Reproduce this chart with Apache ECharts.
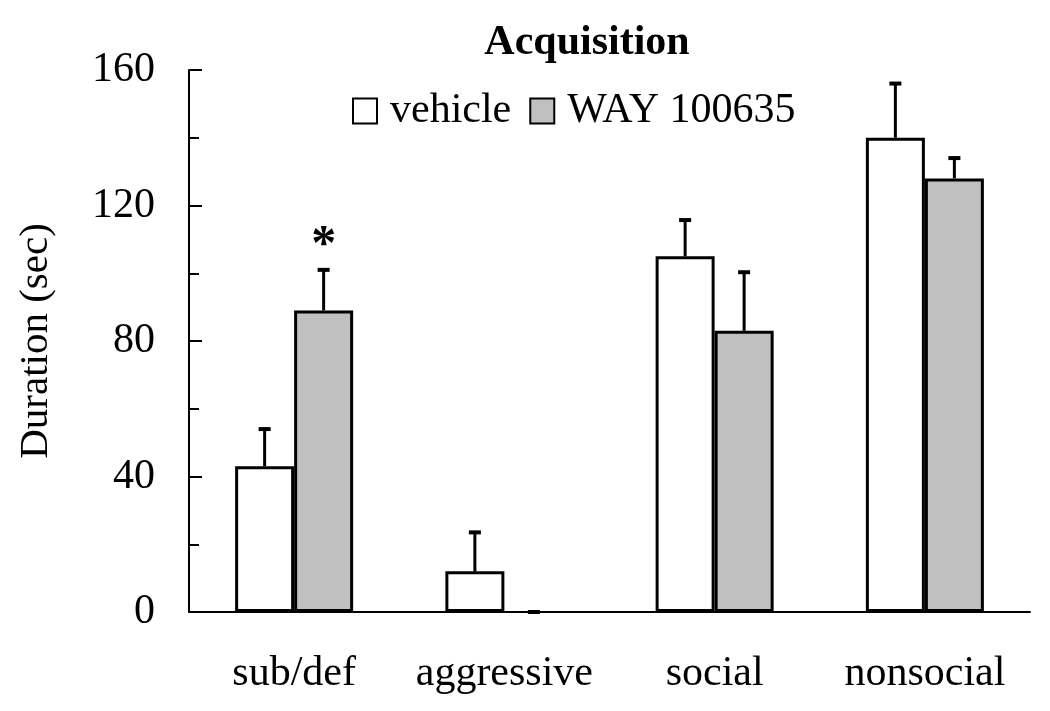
<!DOCTYPE html>
<html>
<head>
<meta charset="utf-8">
<script src="https://cdn.jsdelivr.net/npm/echarts@6/dist/echarts.min.js"></script>
<style>html,body{margin:0;padding:0;background:#fff}#c{width:1050px;height:711px}</style>
</head>
<body>
<div id="c"></div>
<script>
var categories = ['sub/def', 'aggressive', 'social', 'nonsocial'];
var seriesNames = ['vehicle', 'WAY 100635'];
var vehicleMean = [43, 12, 105, 140];
var vehicleSem = [11, 11.5, 10.7, 16];
var wayMean = [89, 0, 83, 128];
var waySem = [12, 0, 17.3, 6];
var waySig = ['*', '', '', ''];
var yTicks = [0, 40, 80, 120, 160];

var FONT = '"Liberation Serif", "Times New Roman", serif';
var BAR_W = 59;

function errData(mean, sem, sig) {
  return mean.map(function (m, i) { return [i, m, m + sem[i], sig ? sig[i] : '']; });
}
function barData(mean) {
  return mean.map(function (m) {
    return m === 0 ? { value: m, itemStyle: { borderWidth: 0 } } : m;
  });
}

function errRender(offsetSign) {
  return function (params, api) {
    var c = api.value(0);
    var base = api.coord([c, api.value(1)]);
    var top = api.coord([c, api.value(2)]);
    var x = base[0] + offsetSign * BAR_W / 2;
    var children = [
      { type: 'line', shape: { x1: x, y1: base[1], x2: x, y2: top[1] }, style: { stroke: '#000', lineWidth: 3 } },
      { type: 'line', shape: { x1: x - 6, y1: top[1], x2: x + 6, y2: top[1] }, style: { stroke: '#000', lineWidth: 4 } }
    ];
    var s = api.value(3);
    if (s) {
      children.push({ type: 'text', style: { text: s, x: x, y: top[1] - 24, align: 'center', verticalAlign: 'middle', font: 'bold 50px ' + FONT, fill: '#000' } });
    }
    return { type: 'group', children: children };
  };
}

var chart = echarts.init(document.getElementById('c'), null, { renderer: 'canvas' });
chart.setOption({
  animation: false,
  backgroundColor: '#fff',
  title: {
    text: 'Acquisition', left: 582, top: 17, textAlign: 'center',
    textStyle: { fontFamily: FONT, fontWeight: 'bold', fontSize: 42, color: '#000' }
  },
  legend: {
    left: 347, top: 85, itemWidth: 24, itemHeight: 25, itemGap: 18,
    icon: 'rect',
    data: seriesNames,
    itemStyle: { borderColor: '#000', borderWidth: 2 },
    textStyle: { fontFamily: FONT, fontSize: 42, color: '#000', padding: [0, 0, 0, 8] }
  },
  grid: { left: 189, right: 20, top: 70, bottom: 99, containLabel: false },
  xAxis: {
    type: 'category', data: categories,
    axisLine: { lineStyle: { color: '#000', width: 2 } },
    axisTick: { show: false },
    axisLabel: { fontFamily: FONT, fontSize: 42, color: '#000', margin: 41, interval: 0 }
  },
  yAxis: {
    type: 'value', min: yTicks[0], max: yTicks[yTicks.length - 1], interval: 40,
    name: 'Duration (sec)', nameLocation: 'middle', nameGap: 132, nameRotate: 90,
    nameTextStyle: { fontFamily: FONT, fontSize: 41, color: '#000' },
    axisLine: { show: true, lineStyle: { color: '#000', width: 2 } },
    axisTick: { show: true, inside: true, length: 13, lineStyle: { color: '#000', width: 2 } },
    minorTick: { show: true, splitNumber: 2, length: 10, lineStyle: { color: '#000', width: 2 } },
    splitLine: { show: false },
    axisLabel: { fontFamily: FONT, fontSize: 42, color: '#000', margin: 34 }
  },
  series: [
    { name: seriesNames[0], type: 'bar', data: barData(vehicleMean), barWidth: BAR_W, barGap: '0%',
      itemStyle: { color: '#fff', borderColor: '#000', borderWidth: 3 } },
    { name: seriesNames[1], type: 'bar', data: barData(wayMean), barWidth: BAR_W, barGap: '0%',
      itemStyle: { color: '#c0c0c0', borderColor: '#000', borderWidth: 3 } },
    { type: 'custom', renderItem: errRender(-1), data: errData(vehicleMean, vehicleSem), z: 5,
      encode: { x: 0, y: [1, 2] } },
    { type: 'custom', renderItem: errRender(1), data: errData(wayMean, waySem, waySig), z: 5,
      encode: { x: 0, y: [1, 2] } }
  ]
});
</script>
</body>
</html>
